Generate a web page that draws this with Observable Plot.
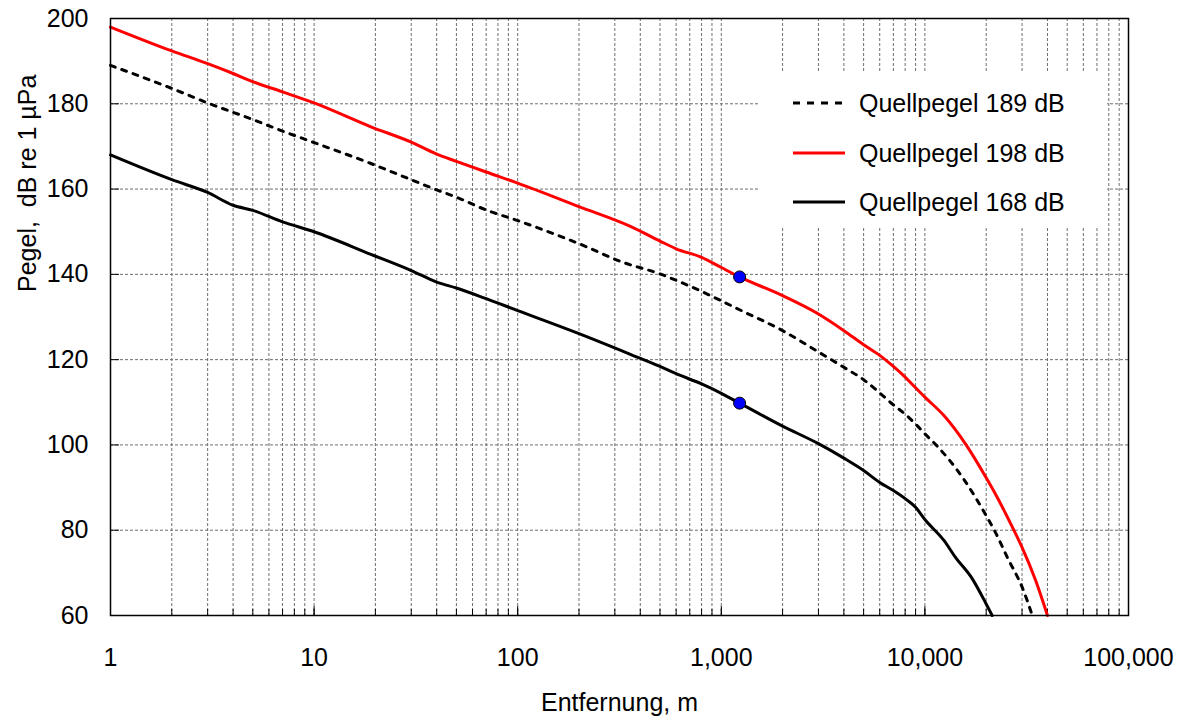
<!DOCTYPE html>
<html><head><meta charset="utf-8">
<script src="https://cdn.jsdelivr.net/npm/d3@7"></script>
<script src="https://cdn.jsdelivr.net/npm/@observablehq/plot@0.6"></script>
<style>
body{margin:0;background:#fff;font-family:"Liberation Sans",Arial,sans-serif;}
#wrap{position:relative;width:1184px;height:724px;}
#legend{position:absolute;left:760px;top:72px;width:347px;height:155px;background:#fff;}
.row{position:absolute;left:0;height:30px;width:347px;}
.row svg{position:absolute;left:33px;top:12px;}
.row span{position:absolute;left:99px;top:0;line-height:30px;font-size:25px;color:#000;white-space:nowrap;}
</style></head><body><div id="wrap"><div id="legend"></div></div>
<script>
// Quellpegel 198 dB (red)
const distance198 = [1,2,3,4,5,7,10,19,30,40,50,70,100,200,360,500,600,800,1000,1230,2000,3000,4000,5000,6000,7000,8000,9000,10000,12400,16000,20000,22200,27350,30000,35000,40000];
const level198    = [198,192.4,189.4,187.1,185.2,182.8,180.2,174.6,171.0,168.2,166.5,164.0,161.4,155.9,151.2,147.8,146.0,144.0,141.6,139.4,135.0,130.7,126.8,123.5,121.0,118.4,115.9,113.4,111.2,106.9,99.9,92.3,88.5,80.0,76.0,68.2,60];
// Quellpegel 189 dB (dashed)
const distance189 = [1,2,3,5,7,10,19,30,40,50,70,100,200,330,500,600,800,1000,1230,2000,3000,4000,5000,6000,7000,8000,9000,10000,11400,15500,20000,22200,25600,30000,33700];
const level189    = [189,183.6,180.2,176.3,173.6,170.9,166.0,162.2,159.8,158.1,155.1,152.6,147.2,142.8,140.1,138.6,136.0,133.8,131.7,126.8,121.8,118.2,115.3,112.2,109.4,107.2,104.9,102.6,99.9,92.0,83.4,79.5,73.3,66.7,60];
// Quellpegel 168 dB (black)
const distance168 = [1,2,3,4,5,7,10,19,30,40,50,70,100,200,360,500,600,800,1000,1230,2000,3000,4000,5000,6000,7000,8000,9000,10000,12400,14100,17100,20000,21400];
const level168    = [168,162.2,159.2,156.2,155.0,152.3,150.0,144.7,140.9,138.2,136.8,134.3,131.5,126.1,121.2,118.4,116.7,114.3,112.1,109.8,104.4,100.3,96.9,94.0,91.2,89.3,87.4,85.4,82.5,77.6,73.7,68.6,62.7,60];
// blue markers
const markerDistance = [1230,1230];
const markerLevel = [139.4,109.8];
// axes
const yTicks = [60,80,100,120,140,160,180,200];
const xLabelTicks = [1,10,100,1000,10000,100000];
const xMinorTicks = [1,2,3,4,5,6,7,8,9,10,20,30,40,50,60,70,80,90,100,200,300,400,500,600,700,800,900,1000,2000,3000,4000,5000,6000,7000,8000,9000,10000,20000,30000,40000,50000,60000,70000,80000,90000,100000];
const legendLabels = ["Quellpegel 189 dB","Quellpegel 198 dB","Quellpegel 168 dB"];
const xTitle = "Entfernung, m";
const yTitle = "Pegel,\u00a0 dB re 1 \u00b5Pa";

const toRows = (ds, ls) => ds.map((d,i)=>({distance:d, level:ls[i]}));
const s198 = toRows(distance198, level198);
const s189 = toRows(distance189, level189);
const s168 = toRows(distance168, level168);
const markers = toRows(markerDistance, markerLevel);

const font = "Liberation Sans, Arial, sans-serif";
const chart = Plot.plot({
  width: 1184, height: 724,
  marginLeft: 110, marginRight: 56, marginTop: 18, marginBottom: 109,
  style: {fontFamily: font, fontSize: "25px", color: "#000", background: "#fff"},
  x: {type: "log", domain: [1, 100000]},
  y: {domain: [60, 200]},
  marks: [
    Plot.gridX(xMinorTicks.slice(1, -1), {stroke: "#6e6e6e", strokeOpacity: 1, strokeDasharray: "3,2", strokeWidth: 1}),
    Plot.gridY(yTicks.slice(1, -1), {stroke: "#6e6e6e", strokeOpacity: 1, strokeDasharray: "3,2", strokeWidth: 1}),
    Plot.axisX(xMinorTicks, {tickSize: -6, tickFormat: () => "", label: null}),
    Plot.axisX(xLabelTicks, {tickSize: -9, tickPadding: 42, tickFormat: d3.format(","), fontSize: 25, label: null}),
    Plot.axisY(yTicks, {tickSize: -9, tickPadding: 31, fontSize: 25, label: null}),
    Plot.line(s189, {x: "distance", y: "level", stroke: "#000", strokeWidth: 3, strokeDasharray: "5,7", curve: "monotone-x"}),
    Plot.line(s168, {x: "distance", y: "level", stroke: "#000", strokeWidth: 3, curve: "monotone-x"}),
    Plot.line(s198, {x: "distance", y: "level", stroke: "#ff0000", strokeWidth: 3, curve: "monotone-x"}),
    Plot.dot(markers, {x: "distance", y: "level", r: 6, fill: "#0000ff", stroke: "#000", strokeWidth: 1}),
    Plot.frame({stroke: "#000", strokeWidth: 1.5}),
    Plot.text([xTitle], {frameAnchor: "bottom", dy: 95, fontSize: 25}),
    Plot.text([yTitle], {frameAnchor: "left", rotate: -90, dx: -83, dy: -25, fontSize: 25})
  ]
});
const wrap = document.getElementById("wrap");
wrap.insertBefore(chart, wrap.firstChild);

// legend
const legendStyles = [
  {stroke: "#000", dash: "7,7"},
  {stroke: "#ff0000", dash: null},
  {stroke: "#000", dash: null}
];
const rowCenters = [31, 80.5, 130];
const legend = document.getElementById("legend");
legendLabels.forEach((lab, i) => {
  const row = document.createElement("div");
  row.className = "row";
  row.style.top = (rowCenters[i] - 15) + "px";
  const st = legendStyles[i];
  row.innerHTML = `<svg width="52" height="6"><line x1="0" x2="52" y1="3" y2="3" stroke="${st.stroke}" stroke-width="3" ${st.dash ? `stroke-dasharray="${st.dash}"` : ""}/></svg><span>${lab}</span>`;
  legend.appendChild(row);
});
</script>
</body></html>
